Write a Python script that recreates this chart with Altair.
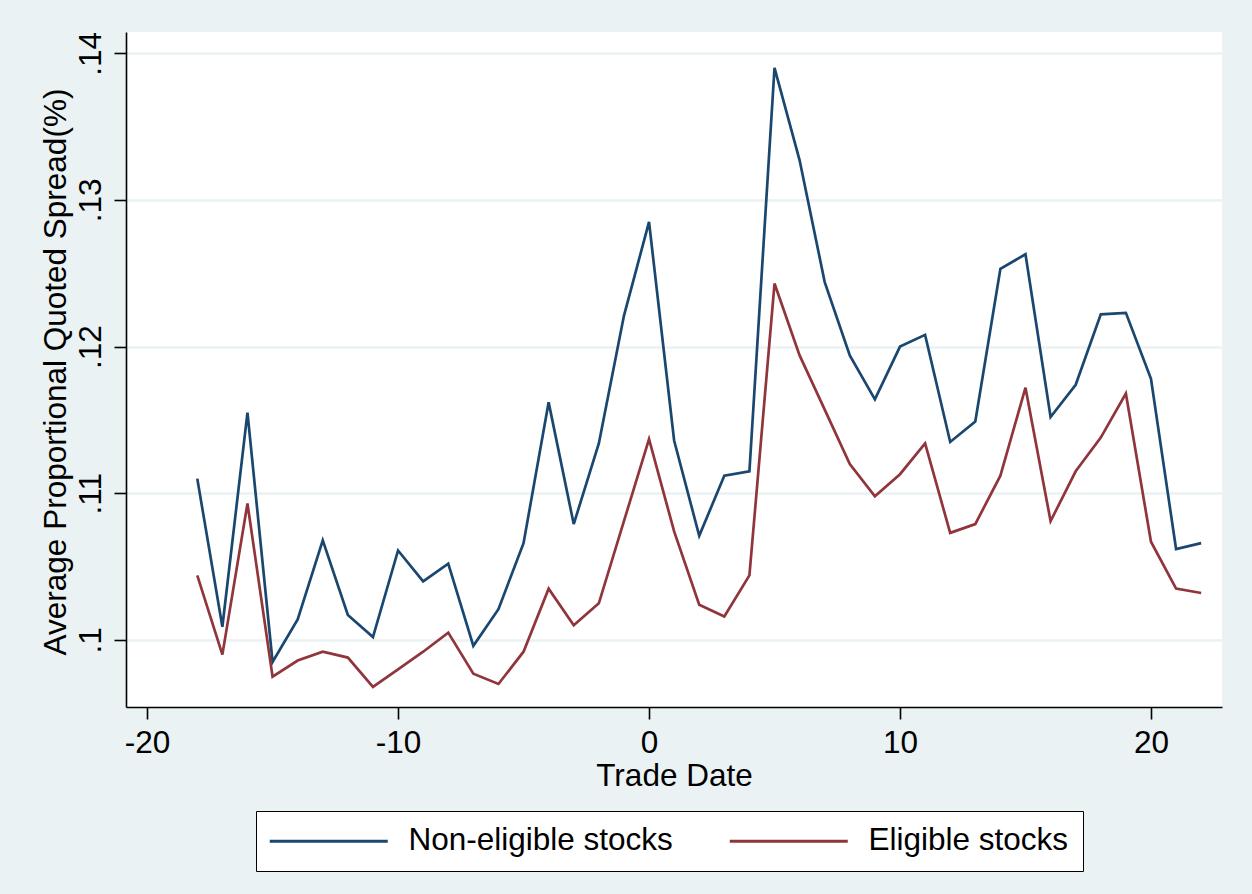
import altair as alt
import pandas as pd

# Event-window trade dates and average proportional quoted spreads (%)
trade_date = list(range(-18, 23))
non_eligible = [
    0.1110, 0.1009, 0.1155, 0.0985, 0.1014, 0.1068, 0.1017, 0.1002, 0.1061, 0.1040,
    0.1052, 0.0996, 0.1021, 0.1066, 0.1162, 0.1079, 0.1134, 0.1221, 0.1285, 0.1136,
    0.1071, 0.1112, 0.1115, 0.1390, 0.1327, 0.1244, 0.1194, 0.1164, 0.1200, 0.1208,
    0.1135, 0.1149, 0.1253, 0.1263, 0.1152, 0.1174, 0.1222, 0.1223, 0.1178, 0.1062,
    0.1066,
]
eligible = [
    0.1044, 0.0990, 0.1093, 0.0975, 0.0986, 0.0992, 0.0988, 0.0968, 0.0980, 0.0992,
    0.1005, 0.0977, 0.0970, 0.0992, 0.1035, 0.1010, 0.1025, 0.1081, 0.1137, 0.1074,
    0.1024, 0.1016, 0.1044, 0.1243, 0.1194, 0.1157, 0.1120, 0.1098, 0.1113, 0.1134,
    0.1073, 0.1079, 0.1112, 0.1172, 0.1081, 0.1115, 0.1138, 0.1168, 0.1067, 0.1035,
    0.1032,
]
series_names = ["Non-eligible stocks", "Eligible stocks"]
series_colors = ["#1A476F", "#90353B"]
x_ticks = [-20, -10, 0, 10, 20]
y_ticks = [0.10, 0.11, 0.12, 0.13, 0.14]

df = pd.concat(
    [
        pd.DataFrame({"day": trade_date, "spread": non_eligible, "group": series_names[0]}),
        pd.DataFrame({"day": trade_date, "spread": eligible, "group": series_names[1]}),
    ],
    ignore_index=True,
)

FONT = "Liberation Sans"
FS = 31.5
BG = "#EAF2F3"

# Long legend key line: a custom path drawn to the right of the symbol slot,
# so the entry height stays set by the label rather than the line length.
KEY_LINE = "M-1.6,0H10.2"

chart = (
    alt.Chart(df)
    .mark_line(strokeWidth=2.7, strokeJoin="miter")
    .encode(
        x=alt.X(
            "day:Q",
            scale=alt.Scale(domain=[-20.84, 22.83], nice=False, zero=False),
            axis=alt.Axis(
                values=x_ticks,
                title="Trade Date",
                grid=False,
                labelExpr="'' + datum.value",
                labelBaseline="top",
                labelPadding=8,
                titleBaseline="alphabetic",
                titleY=78,
            ),
        ),
        y=alt.Y(
            "spread:Q",
            scale=alt.Scale(domain=[0.09543, 0.14145], nice=False, zero=False),
            axis=alt.Axis(
                values=y_ticks,
                title="Average Proportional Quoted Spread(%)",
                labelExpr="substring(format(datum.value, '.2~f'), 1)",
                labelAngle=270,
                labelAlign="center",
                labelBaseline="alphabetic",
                labelPadding=14,
                titleAngle=270,
                titleAlign="center",
                titleBaseline="alphabetic",
                titleX=-61,
                titleY=339.5,
            ),
        ),
        color=alt.Color(
            "group:N",
            scale=alt.Scale(domain=series_names, range=series_colors),
            legend=alt.Legend(
                title=None,
                orient="none",
                direction="horizontal",
                legendX=130,
                legendY=779,
                symbolType=KEY_LINE,
                symbolSize=400,
                symbolStrokeWidth=3,
                labelFontSize=FS,
                labelFont=FONT,
                labelColor="black",
                labelOffset=107,
                labelLimit=500,
                columnPadding=50,
                padding=14,
                fillColor="white",
                strokeColor="black",
            ),
        ),
    )
    .properties(
        width=1096,
        height=675,
        autosize=alt.AutoSizeParams(type="none"),
        padding={"left": 126, "top": 32, "right": 30, "bottom": 187},
        background=BG,
    )
    .configure_view(stroke=None, fill="white")
    .configure_axis(
        domainColor="black",
        domainWidth=1.6,
        tickColor="black",
        tickWidth=1.6,
        tickSize=12,
        gridColor=BG,
        gridWidth=2.5,
        labelFont=FONT,
        labelFontSize=FS,
        labelColor="black",
        titleFont=FONT,
        titleFontSize=FS,
        titleFontWeight="normal",
        titleColor="black",
    )
)

chart.save("out.html", embed_options={"renderer": "svg", "actions": False})
